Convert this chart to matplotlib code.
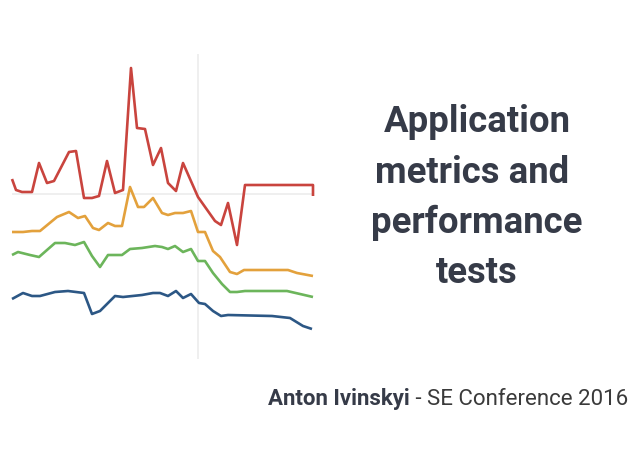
import matplotlib
matplotlib.use("Agg")
import matplotlib.pyplot as plt

# time (x) and metric values
red_t = [0, 4, 10, 20, 27, 35, 42, 57, 64, 72, 80, 87, 95, 103, 111, 119, 125, 133, 141, 149,
         156, 164, 171, 186, 203, 209, 216, 225, 233, 301, 301]
red_v = [180, 169, 167, 167, 196, 176, 178, 207, 208, 161, 161, 163, 198, 166, 169, 291, 231, 230, 194, 211,
         176, 168, 196, 162, 138, 134, 156, 114, 174, 174, 163]

orange_t = [0, 11, 20, 28, 45, 57, 66, 73, 81, 87, 96, 103, 110, 118, 126, 132, 141, 150, 156, 163,
            171, 179, 186, 193, 201, 208, 218, 225, 232, 276, 285, 301]
orange_v = [127, 127, 128, 128, 142, 147, 141, 143, 131, 129, 136, 133, 133, 172, 152, 152, 161, 146, 144, 146,
            146, 148, 127, 127, 108, 102, 87, 85, 89, 89, 86, 83]

green_t = [0, 6, 18, 27, 43, 53, 63, 72, 80, 88, 96, 110, 118, 130, 143, 150, 156, 163, 171, 179,
           186, 193, 201, 210, 218, 225, 233, 275, 301]
green_v = [104, 107, 104, 102, 116, 116, 114, 117, 103, 92, 104, 104, 110, 111, 113, 112, 110, 113, 107, 110,
           98, 98, 86, 75, 67, 67, 68, 68, 62]

blue_t = [0, 11, 20, 28, 43, 56, 72, 80, 88, 103, 111, 130, 141, 148, 156, 164, 171, 179, 187, 193,
          201, 209, 216, 260, 278, 291, 300]
blue_v = [60, 66, 63, 63, 67, 68, 66, 45, 48, 63, 62, 64, 66, 66, 63, 68, 61, 65, 56, 55,
          48, 43, 44, 43, 41, 33, 30]

marker_t = 186
threshold = 165

title_lines = ["Application", "metrics and ", "performance", "tests"]
author = "Anton Ivinskyi"
event = " - SE Conference 2016"

W, H = 640, 452
fig = plt.figure(figsize=(W / 100, H / 100), dpi=100)
fig.patch.set_facecolor("white")

# chart area
ax = fig.add_axes([12 / W, (H - 360) / H, 301 / W, 305 / H])
ax.set_xlim(0, 301)
ax.set_ylim(0, 305)
ax.axis("off")
ax.axvline(marker_t, color="#ececec", lw=1.2, zorder=0)
ax.axhline(threshold, color="#ececec", lw=1.2, zorder=0)

series = [
    (red_t, red_v, "#c9443e"),
    (orange_t, orange_v, "#e3a13c"),
    (green_t, green_v, "#6cb55b"),
    (blue_t, blue_v, "#2c5785"),
]
for t, v, c in series:
    ax.plot(t, v, color=c, lw=1.9, solid_joinstyle="round", solid_capstyle="butt", clip_on=False)

# title text
baselines = [132, 183, 233, 283]
for line, yb in zip(title_lines, baselines):
    fig.text(477 / W, 1 - yb / H, line, ha="center", va="baseline",
             fontsize=26.3, fontweight="bold", family="Roboto", color="#363b48")

# footer
r = fig.canvas.get_renderer()
t2 = fig.text(628 / W, 1 - 405 / H, event, ha="right", va="baseline",
              fontsize=16, family="Roboto", color="#3a3a3a")
bb = t2.get_window_extent(renderer=r)
fig.text(bb.x0 / W, 1 - 405 / H, author, ha="right", va="baseline",
         fontsize=16, fontweight="bold", family="Roboto", color="#363b48")

fig.savefig("out.png", dpi=100, facecolor="white")
